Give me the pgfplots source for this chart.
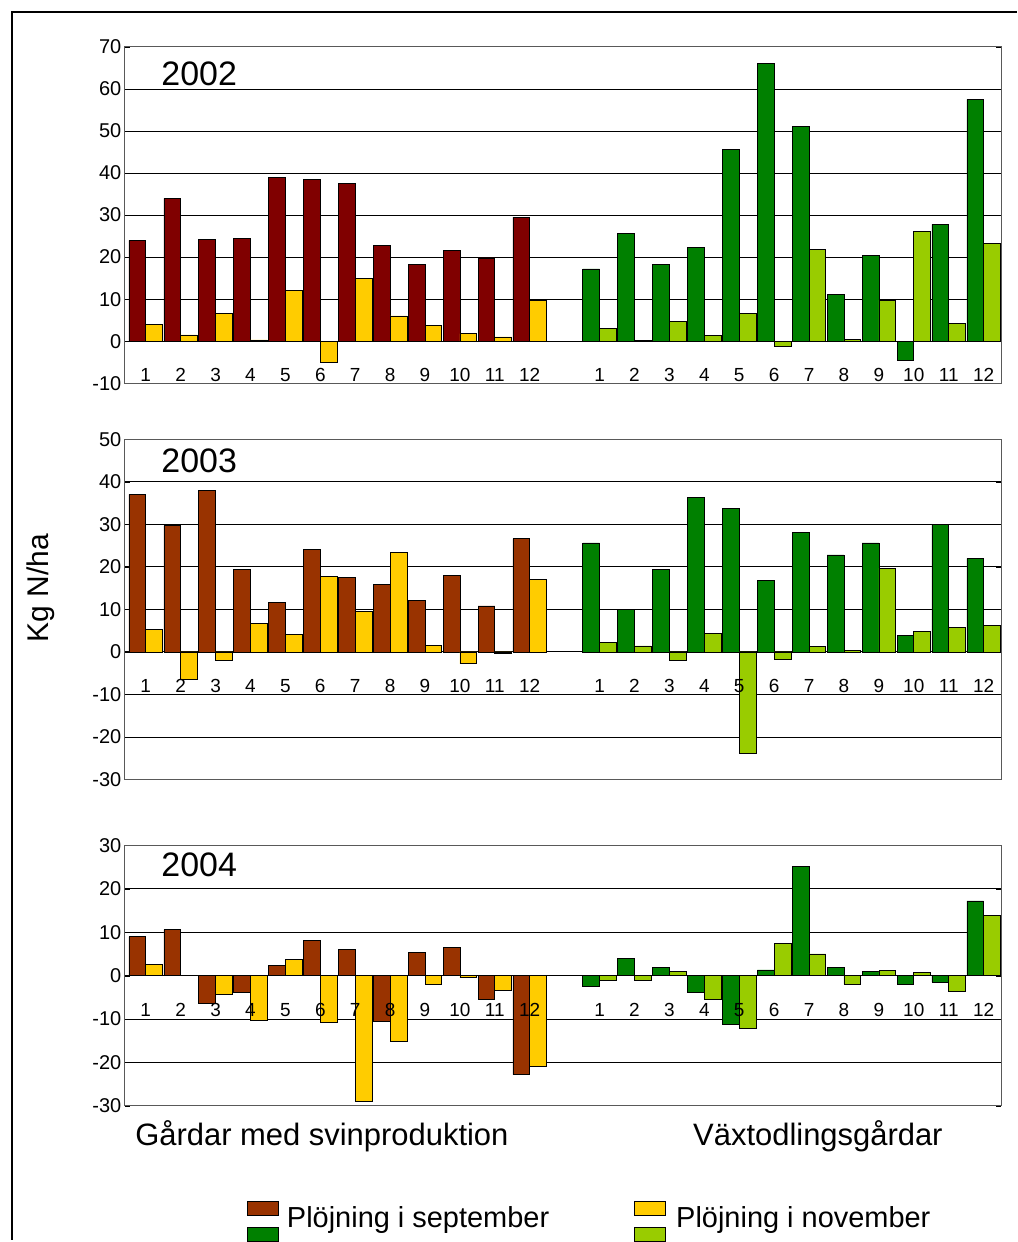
\documentclass[border=0pt]{standalone}
\usepackage{pgfplots}
\pgfplotsset{compat=1.18}
\usepackage{fontspec}
\setmainfont{Liberation Sans}
\definecolor{pigA}{HTML}{800000}
\definecolor{pigB}{HTML}{993300}
\definecolor{nov}{HTML}{FFCC00}
\definecolor{cropS}{HTML}{008000}
\definecolor{cropN}{HTML}{99CC00}
\newcommand\catlabels{%
 \pgfplotsinvokeforeach{1,...,12}{
 \node[font=\fontsize{19}{20}\selectfont] at (axis cs:##1-1,-8) {##1};
 \node[font=\fontsize{19}{20}\selectfont] at (axis cs:##1+12,-8) {##1};}}
\pgfplotsset{
 panel/.style={
  scale only axis, width=878pt, anchor=south west,
  xmin=-0.6, xmax=24.5, ybar, bar width=0.48,
  xtick=\empty, ymajorgrids, grid style={black, line width=0.8pt},
  axis line style={gray!70!black, line width=1pt},
  major tick length=5pt, ytick style={black},
  tick label style={font=\fontsize{20}{22}\selectfont},
  /pgf/number format/assume math mode=true,
  every axis plot/.append style={draw=black, line width=0.7pt},
  clip=false,
 }
}
\begin{document}
\begin{tikzpicture}
\path (0pt,0pt) rectangle (1019pt,1242pt);
\draw[line width=1.5pt] (12pt,0pt) -- (12pt,1230pt) -- (1019pt,1230pt);
% 2002
\begin{axis}[panel, at={(125pt,858pt)}, height=337pt, ymin=-10, ymax=70, ytick={-10,0,...,70}]
\addplot[fill=pigA, bar shift=-0.24] coordinates {(0,24)(1,34)(2,24.3)(3,24.5)(4,39)(5,38.5)(6,37.5)(7,22.8)(8,18.3)(9,21.5)(10,19.8)(11,29.5)};
\addplot[fill=nov, bar shift=0.24] coordinates {(0,4)(1,1.5)(2,6.7)(3,0.3)(4,12)(5,-5)(6,15)(7,6)(8,3.8)(9,1.8)(10,1)(11,9.8)};
\addplot[fill=cropS, bar shift=-0.24] coordinates {(13,17.2)(14,25.7)(15,18.2)(16,22.4)(17,45.6)(18,66)(19,51)(20,11.1)(21,20.5)(22,-4.5)(23,27.8)(24,57.5)};
\addplot[fill=cropN, bar shift=0.24] coordinates {(13,3)(14,0.2)(15,4.8)(16,1.3)(17,6.7)(18,-1.2)(19,21.9)(20,0.5)(21,9.8)(22,26.1)(23,4.2)(24,23.2)};
\catlabels
\node[font=\fontsize{34}{36}\selectfont, anchor=west] at (axis cs:0.35,63.5) {2002};
\end{axis}
% 2003
\begin{axis}[panel, at={(125pt,461pt)}, height=341pt, ymin=-30, ymax=50, ytick={-30,-20,...,50}]
\addplot[fill=pigB, bar shift=-0.24] coordinates {(0,37)(1,29.7)(2,38)(3,19.3)(4,11.7)(5,24)(6,17.5)(7,15.8)(8,12)(9,18)(10,10.8)(11,26.6)};
\addplot[fill=nov, bar shift=0.24] coordinates {(0,5.2)(1,-6.5)(2,-2)(3,6.7)(4,4)(5,17.8)(6,9.5)(7,23.3)(8,1.6)(9,-2.8)(10,-0.4)(11,17)};
\addplot[fill=cropS, bar shift=-0.24] coordinates {(13,25.6)(14,10)(15,19.3)(16,36.3)(17,33.8)(18,16.7)(19,28)(20,22.8)(21,25.6)(22,3.8)(23,30)(24,22)};
\addplot[fill=cropN, bar shift=0.24] coordinates {(13,2.2)(14,1.4)(15,-2)(16,4.4)(17,-23.8)(18,-1.8)(19,1.2)(20,0.3)(21,19.7)(22,4.8)(23,5.7)(24,6.2)};
\catlabels
\node[font=\fontsize{34}{36}\selectfont, anchor=west] at (axis cs:0.35,45) {2003};
\node[font=\fontsize{30}{32}\selectfont, rotate=90] at (axis cs:-3.0,15) {Kg N/ha};
\end{axis}
% 2004
\begin{axis}[panel, at={(125pt,134pt)}, height=261pt, ymin=-30, ymax=30, ytick={-30,-20,...,30}]
\addplot[fill=pigB, bar shift=-0.24] coordinates {(0,9)(1,10.6)(2,-6.3)(3,-3.8)(4,2.3)(5,8.2)(6,6.1)(7,-10.5)(8,5.3)(9,6.4)(10,-5.5)(11,-22.8)};
\addplot[fill=nov, bar shift=0.24] coordinates {(0,2.6)(1,0)(2,-4.3)(3,-10.2)(4,3.7)(5,-10.7)(6,-28.9)(7,-15.1)(8,-2)(9,-0.5)(10,-3.3)(11,-21)};
\addplot[fill=cropS, bar shift=-0.24] coordinates {(13,-2.5)(14,3.9)(15,1.8)(16,-3.9)(17,-11.2)(18,1.3)(19,25.2)(20,1.8)(21,1)(22,-2)(23,-1.5)(24,17.2)};
\addplot[fill=cropN, bar shift=0.24] coordinates {(13,-1)(14,-1.2)(15,1)(16,-5.4)(17,-12.2)(18,7.5)(19,5)(20,-2)(21,1.2)(22,0.8)(23,-3.6)(24,13.8)};
\catlabels
\node[font=\fontsize{34}{36}\selectfont, anchor=west] at (axis cs:0.35,25.5) {2004};
\end{axis}
\node[font=\fontsize{31}{33}\selectfont, anchor=west] at (132pt,104pt) {Gårdar med svinproduktion};
\node[font=\fontsize{31}{33}\selectfont, anchor=west] at (691pt,104pt) {Växtodlingsgårdar};
\begin{scope}[draw=black, line width=0.8pt]
\filldraw[fill=pigB] (248pt,24pt) rectangle (279pt,38pt);
\filldraw[fill=cropS] (248pt,-2pt) rectangle (279pt,12pt);
\filldraw[fill=nov] (636pt,24pt) rectangle (667pt,38pt);
\filldraw[fill=cropN] (636pt,-2pt) rectangle (667pt,12pt);
\end{scope}
\node[font=\fontsize{29}{31}\selectfont, anchor=west] at (284pt,20pt) {Plöjning i september};
\node[font=\fontsize{29}{31}\selectfont, anchor=west] at (674pt,20pt) {Plöjning i november};
\end{tikzpicture}
\end{document}
